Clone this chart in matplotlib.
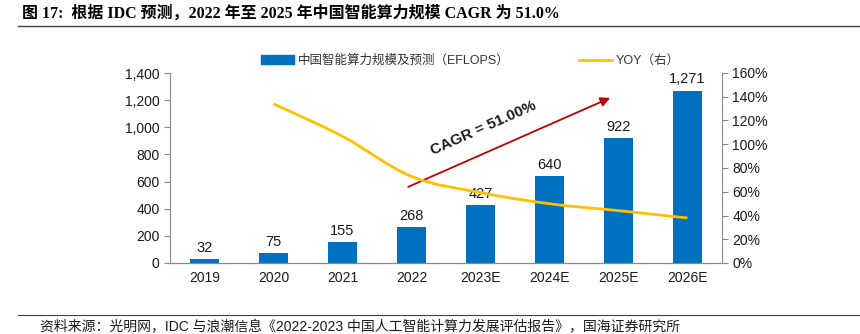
import numpy as np
import matplotlib.pyplot as plt
from matplotlib.path import Path
from matplotlib.patches import PathPatch
from matplotlib.lines import Line2D
from matplotlib.patches import Patch

plt.rcParams['font.family'] = ['Liberation Sans', 'Noto Sans CJK SC', 'DejaVu Sans']

years = ['2019', '2020', '2021', '2022', '2023E', '2024E', '2025E', '2026E']
scale = [32, 75, 155, 268, 427, 640, 922, 1271]
yoy = [None, 1.34, 1.067, 0.729, 0.593, 0.499, 0.441, 0.379]

blue = '#0070C0'
gold = '#FFC000'
grey = '#898989'

fig = plt.figure(figsize=(8.6, 3.34), dpi=100)
ax = fig.add_axes([170 / 860, 1 - 263 / 334, 552 / 860, 190 / 334])
ax2 = ax.twinx()

x = np.arange(len(years))
ax.bar(x, scale, width=0.42, color=blue, zorder=2)
for xi, v in zip(x, scale):
    ax.text(xi, v + 30, f'{v:,}', ha='center', va='bottom', fontsize=10.5, color='#1a1a1a')

ax.set_xlim(-0.5, len(years) - 0.5)
ax.set_ylim(0, 1400)
ax.set_yticks(range(0, 1401, 200))
ax.set_yticklabels([f'{v:,}' for v in range(0, 1401, 200)])
ax.set_xticks(x)
ax.set_xticklabels(years)

# smoothed yoy line (Catmull-Rom through the data points)
px = [xi for xi, v in zip(x, yoy) if v is not None]
py = [v for v in yoy if v is not None]
verts = [(px[0], py[0])]
codes = [Path.MOVETO]
n = len(px)
for i in range(n - 1):
    p0 = (px[max(i - 1, 0)], py[max(i - 1, 0)])
    p1 = (px[i], py[i])
    p2 = (px[i + 1], py[i + 1])
    p3 = (px[min(i + 2, n - 1)], py[min(i + 2, n - 1)])
    c1 = (p1[0] + (p2[0] - p0[0]) / 6, p1[1] + (p2[1] - p0[1]) / 6)
    c2 = (p2[0] - (p3[0] - p1[0]) / 6, p2[1] - (p3[1] - p1[1]) / 6)
    verts += [c1, c2, p2]
    codes += [Path.CURVE4] * 3
ax2.add_patch(PathPatch(Path(verts, codes), fill=False, edgecolor=gold, lw=2, zorder=3))
ax2.set_ylim(0, 1.6)
ax2.set_yticks(np.arange(0, 1.61, 0.2))
ax2.set_yticklabels([f'{int(round(v * 100))}%' for v in np.arange(0, 1.61, 0.2)])

for a in (ax, ax2):
    a.spines['top'].set_visible(False)
    for s in ('left', 'right', 'bottom'):
        a.spines[s].set_color(grey)
    a.tick_params(colors=grey, labelcolor='#1a1a1a', labelsize=10, length=4)
ax.spines['right'].set_visible(False)
ax2.spines['left'].set_visible(False)
ax.tick_params(axis='x', length=0, pad=6)

# CAGR arrow
ax.annotate('', xy=(0.802, 0.875), xytext=(0.427, 0.395), xycoords='axes fraction',
            arrowprops=dict(arrowstyle='-|>', color='#C00000', lw=1.3, mutation_scale=14))
ax.text(0.567, 0.71, 'CAGR = 51.00%', transform=ax.transAxes, rotation=24, ha='center',
        va='center', fontsize=11, fontweight='bold', color='#1a1a1a')

# legend
handles = [Patch(color=blue), Line2D([0], [0], color=gold, lw=2)]
fig.legend(handles, ['中国智能算力规模及预测（EFLOPS）', 'YOY（右）'],
           loc='center left', bbox_to_anchor=(250 / 860, 1 - 61 / 334), ncol=2,
           frameon=False, handlelength=2.6, handletextpad=0.3,
           columnspacing=5.6, labelcolor='#333333',
           prop={'family': ['Liberation Sans', 'Noto Sans CJK SC'], 'size': 9})

# title & source
fig.text(22 / 860, 1 - 14 / 334, '图 17:  根据 IDC 预测，2022 年至 2025 年中国智能算力规模 CAGR 为 51.0%',
         ha='left', va='center', fontsize=11.5, fontweight='bold',
         family=['Liberation Serif', 'Noto Sans CJK SC'])
fig.add_artist(Line2D([18 / 860, 1], [1 - 26 / 334] * 2, color='#404040', lw=1))
fig.add_artist(Line2D([18 / 860, 1], [1 - 315 / 334] * 2, color='#404040', lw=0.8))
fig.text(40 / 860, 1 - 326 / 334,
         '资料来源：光明网，IDC 与浪潮信息《2022-2023 中国人工智能计算力发展评估报告》，国海证券研究所',
         ha='left', va='center', fontsize=10, color='#1a1a1a')

fig.savefig('out.png', dpi=100)
